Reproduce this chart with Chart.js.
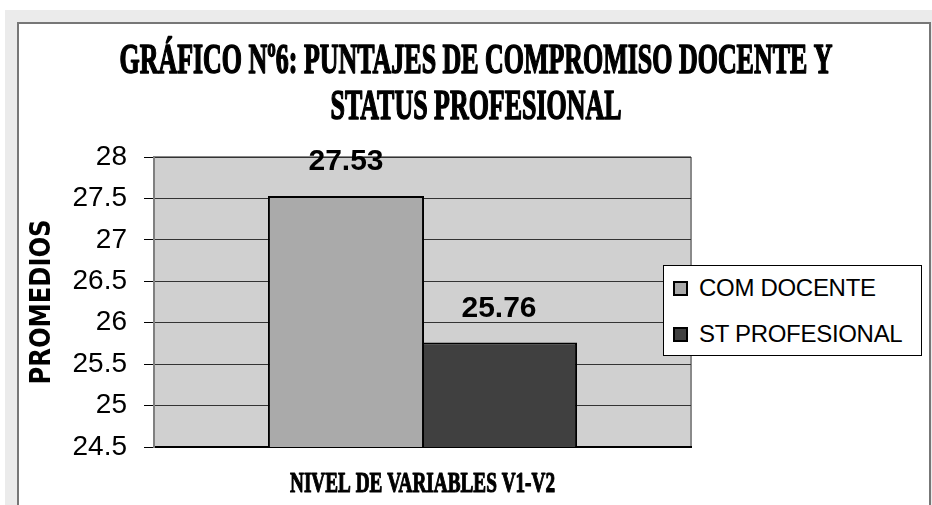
<!DOCTYPE html>
<html lang="es">
<head>
<meta charset="utf-8">
<title>Gráfico Nº6</title>
<script src="https://cdn.jsdelivr.net/npm/chart.js@4.4.1/dist/chart.umd.min.js"></script>
<style>
  html, body { margin: 0; padding: 0; background: #fff; }
  body { width: 932px; height: 505px; position: relative; overflow: hidden; font-family: 'Liberation Sans', Arial, sans-serif; }
  #marco { position: absolute; left: 5px; top: 10px; width: 927px; height: 495px; background: #ebebeb; }
  #panel { position: absolute; left: 17px; top: 22px; width: 910px; height: 483px; background: #fff;
           border: 2px solid #777; border-bottom: none; }
  #panel canvas { display: block; }
  #leyenda { position: absolute; left: 663px; top: 265px; width: 257px; height: 89px; background: #fff;
             border: 1px solid #000; }
  .item { position: absolute; left: 9px; height: 30px; display: flex; align-items: center; }
  .marca { width: 11px; height: 11px; border: 2px solid #000; margin-right: 11px; }
  .item span { font-size: 24px; color: #000; letter-spacing: -0.3px; }
</style>
</head>
<body>
<div id="marco"></div>
<div id="panel"><canvas id="grafico" width="910" height="481"></canvas></div>
<div id="leyenda"></div>

<script>
// Datos del gráfico
const categorias = ['NIVEL DE VARIABLES V1-V2'];
const series = ['COM DOCENTE', 'ST PROFESIONAL'];
const comDocente = [27.53];
const stProfesional = [25.76];
const coloresSeries = ['#aaaaaa', '#404040'];
const ticksY = [24.5, 25, 25.5, 26, 26.5, 27, 27.5, 28];
const tituloLineas = ['GRÁFICO Nº6: PUNTAJES DE COMPROMISO DOCENTE Y', 'STATUS PROFESIONAL'];
const tituloEjeY = 'PROMEDIOS';

/**
 * Dibuja un texto estrechado horizontalmente (fuente condensada)
 */
function dibujarCondensado(ctx, texto, x, y, fuente, escala, ancho, grosor) {
    ctx.save();
    ctx.font = fuente;
    const k = escala || (ancho / ctx.measureText(texto).width);
    ctx.translate(x, y);
    ctx.scale(k, 1);
    ctx.fillStyle = '#000';
    ctx.strokeStyle = '#000';
    ctx.textAlign = 'center';
    ctx.textBaseline = 'alphabetic';
    ctx.fillText(texto, 0, 0);
    if (grosor) {
        ctx.lineWidth = grosor;
        ctx.lineJoin = 'round';
        ctx.strokeText(texto, 0, 0);
    }
    ctx.restore();
    return k;
}

// Fondo gris del área de trazado y borde derecho
const fondoArea = {
    id: 'fondoArea',
    beforeDraw(chart) {
        const { ctx, chartArea: a } = chart;
        ctx.save();
        ctx.fillStyle = '#d0d0d0';
        ctx.fillRect(a.left, a.top, a.right - a.left, a.bottom - a.top);
        ctx.strokeStyle = '#8a8a8a';
        ctx.lineWidth = 2;
        ctx.beginPath();
        ctx.moveTo(a.right, a.top);
        ctx.lineTo(a.right, a.bottom);
        ctx.moveTo(a.left, a.top);
        ctx.lineTo(a.right, a.top);
        ctx.stroke();
        ctx.restore();
    }
};

// Etiquetas de valor encima de cada barra
const etiquetasValor = {
    id: 'etiquetasValor',
    afterDatasetsDraw(chart) {
        const ctx = chart.ctx;
        ctx.save();
        ctx.font = "bold 30px 'Liberation Sans', Arial, sans-serif";
        ctx.fillStyle = '#000';
        ctx.textAlign = 'center';
        ctx.textBaseline = 'middle';
        chart.data.datasets.forEach((ds, i) => {
            chart.getDatasetMeta(i).data.forEach((barra, j) => {
                ctx.fillText(ds.data[j].toFixed(2), barra.x, barra.y - 34);
            });
        });
        ctx.restore();
    }
};

// Título y títulos de ejes con letra condensada
const textosCondensados = {
    id: 'textosCondensados',
    afterDraw(chart) {
        const ctx = chart.ctx;
        const a = chart.chartArea;
        const fuenteTitulo = "bold 43px 'Liberation Serif', serif";
        const k = dibujarCondensado(ctx, tituloLineas[0], 457, 49, fuenteTitulo, null, 713, 1.6);
        dibujarCondensado(ctx, tituloLineas[1], 457, 95, fuenteTitulo, k, null, 1.6);

        const xEscala = chart.scales.x;
        dibujarCondensado(ctx, categorias[0], xEscala.getPixelForValue(0), 468,
            "bold 30px 'Liberation Serif', serif", null, 265, 1.2);

        ctx.save();
        ctx.translate(31, (a.top + a.bottom) / 2);
        ctx.rotate(-Math.PI / 2);
        dibujarCondensado(ctx, tituloEjeY, 0, 0, "bold 28px 'DejaVu Sans', sans-serif", null, 165);
        ctx.restore();
    }
};

const ctx = document.getElementById('grafico').getContext('2d');
const grafico = new Chart(ctx, {
    type: 'bar',
    data: {
        labels: categorias,
        datasets: [
            { label: series[0], data: comDocente, backgroundColor: coloresSeries[0] },
            { label: series[1], data: stProfesional, backgroundColor: coloresSeries[1] }
        ]
    },
    options: {
        responsive: false,
        animation: false,
        layout: { padding: { top: 133, right: 238, bottom: 58, left: 0 } },
        datasets: {
            bar: {
                borderColor: '#000',
                borderWidth: 2,
                borderSkipped: false,
                categoryPercentage: 0.57,
                barPercentage: 1.02
            }
        },
        scales: {
            x: {
                ticks: { display: false },
                grid: { display: false, drawTicks: false },
                border: { display: true, color: '#000', width: 2 },
                afterFit: (s) => { s.height = 0; }
            },
            y: {
                min: ticksY[0],
                max: ticksY[ticksY.length - 1],
                afterBuildTicks: (s) => { s.ticks = ticksY.map(v => ({ value: v })); },
                afterFit: (s) => { s.width = 135; },
                ticks: {
                    color: '#000',
                    padding: 17,
                    font: { family: "'Liberation Sans', Arial, sans-serif", size: 28 },
                    callback: (v) => String(v)
                },
                grid: { color: '#333', lineWidth: 1, tickLength: 10, tickColor: '#000' },
                border: { display: true, color: '#808080', width: 2 }
            }
        },
        plugins: {
            legend: { display: false },
            tooltip: { enabled: false },
            title: { display: false }
        }
    },
    plugins: [fondoArea, etiquetasValor, textosCondensados]
});

// Leyenda en HTML construida desde las series
const leyenda = document.getElementById('leyenda');
series.forEach((nombre, i) => {
    const item = document.createElement('div');
    item.className = 'item';
    item.style.top = (i === 0 ? 7 : 53) + 'px';
    item.innerHTML = '<div class="marca" style="background:' + coloresSeries[i] + '"></div><span>' + nombre + '</span>';
    leyenda.appendChild(item);
});
</script>
</body>
</html>
